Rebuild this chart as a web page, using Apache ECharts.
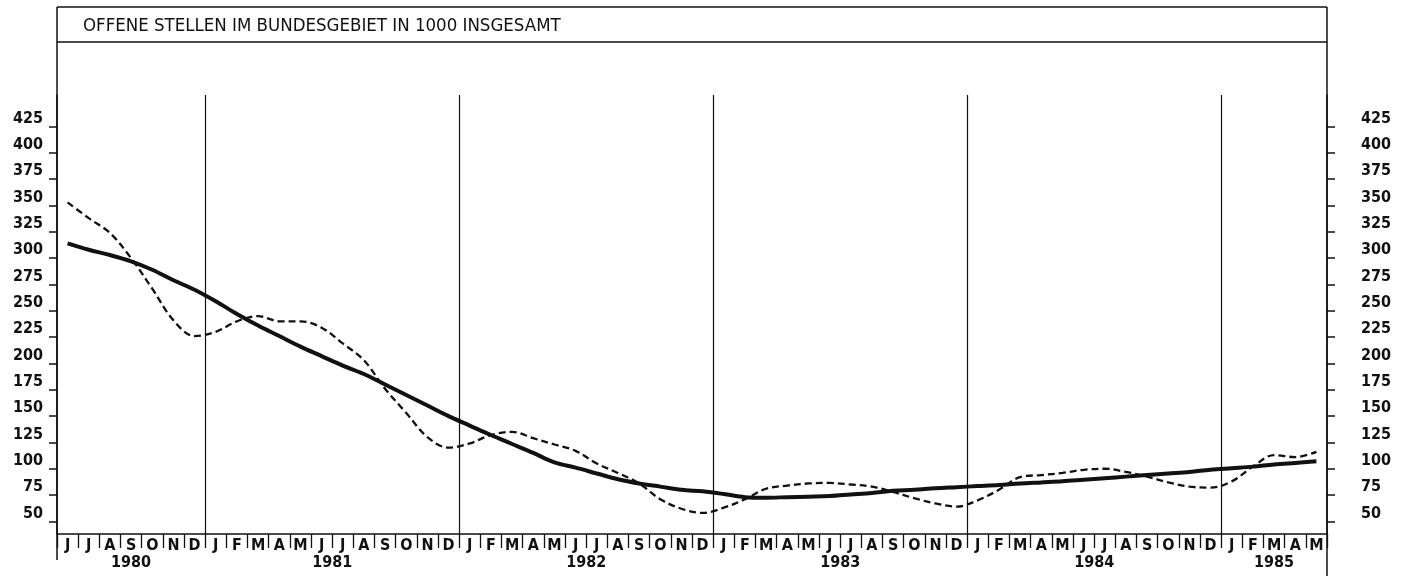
<!DOCTYPE html>
<html>
<head>
<meta charset="utf-8">
<script src="https://cdn.jsdelivr.net/npm/echarts@6/dist/echarts.min.js"></script>
<style>
  html, body { margin: 0; padding: 0; background: #fff; }
  #chart { width: 1410px; height: 576px; }
</style>
</head>
<body>
<div id="chart"></div>
<script>
// ---- data ----
const titleText = 'OFFENE STELLEN IM BUNDESGEBIET IN 1000 INSGESAMT';
const years = ['1980', '1981', '1982', '1983', '1984', '1985'];
const monthsPerYear = [7, 12, 12, 12, 12, 5];
const monthLetters = ['J','F','M','A','M','J','J','A','S','O','N','D'];
const firstMonthIndex = 5; // June 1980
// monthly values (in 1000): actual vacancies (dashed)
const vacancies = [
  353, 338, 324, 300, 271, 241, 226,
  230, 240, 245, 240, 240, 234, 219, 203, 176, 153, 130, 120,
  124, 132, 135, 129, 123, 117, 105, 96, 86, 71, 62, 58,
  63, 71, 81, 84, 86, 86.5, 85, 83, 78, 72, 67, 64,
  70, 80, 92, 94, 96, 99, 100, 97, 92.5, 87, 83, 82,
  88, 102, 113, 111, 116
];
// trend (solid)
const trend = [
  314, 308, 303, 297, 289, 279, 270,
  259, 247, 236, 226, 216, 207, 198, 190, 180, 170, 160, 150,
  141, 132, 123.5, 115, 106, 101, 95.5, 90, 86, 83, 80, 78.5,
  76, 73, 72.5, 73, 73.5, 74, 75.5, 77, 79, 80, 81.5, 82.5,
  83.5, 84.5, 86, 87, 88, 89.5, 91, 92.5, 94, 95.5, 97, 99,
  100.5, 102, 104, 105.5, 107
];
const yTicks = [50, 75, 100, 125, 150, 175, 200, 225, 250, 275, 300, 325, 350, 375, 400, 425];

// ---- derived axis data ----
const monthKeys = [];
const monthLabels = [];
{
  let m = firstMonthIndex;
  years.forEach((y, yi) => {
    for (let k = 0; k < monthsPerYear[yi]; k++) {
      monthKeys.push(y + '-' + (m + 1));
      monthLabels.push(monthLetters[m]);
      m = (m + 1) % 12;
    }
  });
}
const yearBounds = [];
const yearCenters = [];
{
  let acc = 0;
  monthsPerYear.forEach((n, i) => {
    yearCenters.push(acc + n / 2);
    acc += n;
    if (i < monthsPerYear.length - 1) yearBounds.push(acc);
  });
}
const totalMonths = monthKeys.length;

const FONT = "'DejaVu Sans Condensed', 'Liberation Sans Narrow', sans-serif";
const INK = '#111';

const chart = echarts.init(document.getElementById('chart'), null, { renderer: 'canvas' });

const yAxisCommon = {
  type: 'value',
  min: 38,
  max: 455,
  splitLine: { show: false },
  axisLine: { show: true, lineStyle: { color: INK, width: 1.5 } },
  axisTick: { show: true, customValues: yTicks, length: 8, lineStyle: { color: INK, width: 1.5 } },
};

chart.setOption({
  animation: false,
  backgroundColor: '#fff',
  title: {
    text: titleText,
    left: 83,
    top: 17,
    padding: 0,
    textStyle: { fontFamily: FONT, fontSize: 18.5, fontWeight: 'normal', color: INK }
  },
  grid: { left: 57, right: 83, top: 95, bottom: 42, containLabel: false },
  xAxis: [
    {
      type: 'category',
      data: monthKeys,
      boundaryGap: true,
      position: 'bottom',
      axisLine: { show: true, lineStyle: { color: INK, width: 1.5 } },
      axisTick: { show: true, interval: 0, length: 14, lineStyle: { color: INK, width: 1.3 } },
      axisLabel: {
        interval: 0,
        margin: 4,
        fontFamily: FONT,
        fontSize: 16,
        fontWeight: 'bold',
        color: INK,
        formatter: (v, i) => monthLabels[i]
      },
      splitLine: { show: false }
    },
    {
      type: 'value',
      min: 0,
      max: totalMonths,
      position: 'bottom',
      axisLine: { show: false },
      axisTick: { show: false },
      splitLine: { show: false },
      axisLabel: {
        customValues: yearCenters,
        margin: 21,
        fontFamily: FONT,
        fontSize: 16,
        fontWeight: 'bold',
        color: INK,
        formatter: (v) => years[yearCenters.indexOf(v)]
      }
    }
  ],
  yAxis: [
    Object.assign({}, yAxisCommon, {
      position: 'left',
      axisLabel: {
        customValues: yTicks,
        margin: 14,
        fontFamily: FONT, fontSize: 16, fontWeight: 'bold', color: INK,
        verticalAlign: 'bottom'
      }
    }),
    Object.assign({}, yAxisCommon, {
      position: 'right',
      axisLabel: {
        customValues: yTicks,
        margin: 34,
        fontFamily: FONT, fontSize: 16, fontWeight: 'bold', color: INK,
        verticalAlign: 'bottom'
      }
    })
  ],
  graphic: [
    { type: 'line', shape: { x1: 57, y1: 7, x2: 1327, y2: 7 }, style: { stroke: INK, lineWidth: 1.5 } },
    { type: 'line', shape: { x1: 57, y1: 42, x2: 1327, y2: 42 }, style: { stroke: INK, lineWidth: 1.5 } },
    { type: 'line', shape: { x1: 57, y1: 7, x2: 57, y2: 560 }, style: { stroke: INK, lineWidth: 1.5 } },
    { type: 'line', shape: { x1: 1327, y1: 7, x2: 1327, y2: 576 }, style: { stroke: INK, lineWidth: 1.5 } }
  ],
  series: [
    {
      name: 'Jahresgrenzen',
      type: 'line',
      xAxisIndex: 1,
      yAxisIndex: 0,
      data: [],
      silent: true,
      markLine: {
        silent: true,
        symbol: ['none', 'none'],
        label: { show: false },
        lineStyle: { color: INK, width: 1.2, type: 'solid' },
        data: yearBounds.map(b => ({ xAxis: b }))
      }
    },
    {
      name: 'Offene Stellen',
      type: 'line',
      xAxisIndex: 0,
      yAxisIndex: 0,
      data: vacancies,
      smooth: 0.35,
      symbol: 'none',
      lineStyle: { color: INK, width: 2.3, type: [7, 4] },
      z: 3
    },
    {
      name: 'Trend',
      type: 'line',
      xAxisIndex: 0,
      yAxisIndex: 0,
      data: trend,
      smooth: 0.35,
      symbol: 'none',
      lineStyle: { color: INK, width: 4 },
      z: 4
    }
  ]
});
</script>
</body>
</html>
